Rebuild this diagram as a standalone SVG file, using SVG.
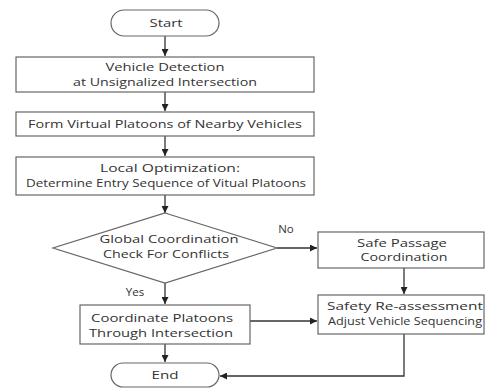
<svg xmlns="http://www.w3.org/2000/svg" width="485" height="388" viewBox="0 0 485 388">
<style>
.n{fill:#fff;stroke:#666;stroke-width:1.2}
.t{font-family:"Open Sans","Noto Sans",sans-serif;font-size:11.5px;fill:#333;text-anchor:middle}
.c{fill:none;stroke:#333;stroke-width:1.3;marker-end:url(#a)}
</style>
<defs><marker id="a" viewBox="0 0 10 10" refX="10" refY="5" markerWidth="7" markerHeight="7" orient="auto" markerUnits="userSpaceOnUse"><path d="M0,0L10,5L0,10z" fill="#222"/></marker></defs>
<rect width="485" height="388" fill="#fff"/>
<g id="connectors">
<path class="c" d="M165,36V56"/>
<path class="c" d="M165,92V111"/>
<path class="c" d="M165,136V156"/>
<path class="c" d="M165,195V213"/>
<path class="c" d="M277,248H317"/>
<path class="c" d="M404,268V294"/>
<path class="c" d="M165,283V304"/>
<path class="c" d="M250,321H317"/>
<path class="c" d="M165,344V362"/>
<path class="c" d="M404,334V376H220"/>
</g>
<g id="start"><rect class="n" x="111" y="10" width="108" height="26" rx="13"/><text class="t" x="166" y="27" textLength="33" lengthAdjust="spacingAndGlyphs">Start</text></g>
<g id="detect"><rect class="n" x="16" y="57" width="298" height="35"/><text class="t" x="165" y="71" textLength="119" lengthAdjust="spacingAndGlyphs">Vehicle Detection</text><text class="t" x="165" y="86" textLength="184" lengthAdjust="spacingAndGlyphs">at Unsignalized Intersection</text></g>
<g id="form"><rect class="n" x="16" y="112" width="298" height="24"/><text class="t" x="165" y="128" textLength="274" lengthAdjust="spacingAndGlyphs">Form Virtual Platoons of Nearby Vehicles</text></g>
<g id="local"><rect class="n" x="16" y="157" width="298" height="38"/><text class="t" x="170" y="172" textLength="140" lengthAdjust="spacingAndGlyphs">Local Optimization:</text><text class="t" x="166" y="187" textLength="280" lengthAdjust="spacingAndGlyphs">Determine Entry Sequence of Vitual Platoons</text></g>
<g id="global"><path class="n" d="M165,213L277,248L165,283L53,248Z"/><text class="t" x="169" y="243" textLength="139" lengthAdjust="spacingAndGlyphs">Global Coordination</text><text class="t" x="166" y="258" textLength="126" lengthAdjust="spacingAndGlyphs">Check For Conflicts</text></g>
<text class="t" x="286" y="233">No</text>
<text class="t" x="135" y="296">Yes</text>
<g id="safe"><rect class="n" x="318" y="232" width="166" height="36"/><text class="t" x="402" y="247" textLength="90" lengthAdjust="spacingAndGlyphs">Safe Passage</text><text class="t" x="404" y="261" textLength="87" lengthAdjust="spacingAndGlyphs">Coordination</text></g>
<g id="coord"><rect class="n" x="80" y="305" width="170" height="39"/><text class="t" x="162" y="322" textLength="142" lengthAdjust="spacingAndGlyphs">Coordinate Platoons</text><text class="t" x="161" y="337" textLength="144" lengthAdjust="spacingAndGlyphs">Through Intersection</text></g>
<g id="reassess"><rect class="n" x="318" y="295" width="166" height="39"/><text class="t" x="405" y="310" textLength="156" lengthAdjust="spacingAndGlyphs">Safety Re-assessment</text><text class="t" x="405" y="325" textLength="154" lengthAdjust="spacingAndGlyphs">Adjust Vehicle Sequencing</text></g>
<g id="end"><rect class="n" x="111" y="363" width="108" height="24" rx="12"/><text class="t" x="165" y="379" textLength="27" lengthAdjust="spacingAndGlyphs">End</text></g>
</svg>
